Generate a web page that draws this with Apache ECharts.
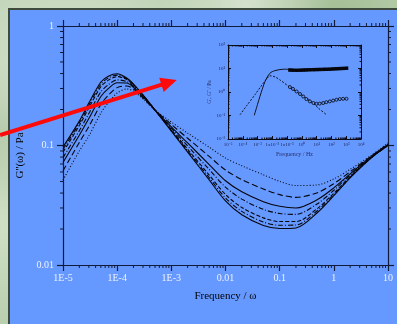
<!DOCTYPE html>
<html>
<head>
<meta charset="utf-8">
<script src="https://cdn.jsdelivr.net/npm/echarts@6/dist/echarts.min.js"></script>
<style>
  html, body { margin: 0; padding: 0; width: 397px; height: 324px; overflow: hidden; }
  body {
    background-color: #b9cfae;
    background-image:
      radial-gradient(ellipse at 18% 20%, rgba(255,255,255,0.45), transparent 35%),
      radial-gradient(ellipse at 62% 2%, rgba(255,255,255,0.40), transparent 25%),
      radial-gradient(ellipse at 85% 4%, rgba(140,170,120,0.45), transparent 20%),
      radial-gradient(ellipse at 2% 70%, rgba(230,240,220,0.5), transparent 30%),
      radial-gradient(ellipse at 3% 40%, rgba(150,175,135,0.4), transparent 25%);
  }
  #panel {
    position: absolute; left: 8px; top: 8px; right: 0; bottom: 0;
    background: #6699ff;
    border-left: 2px solid #3e4b3c; border-top: 2px solid #3e4b3c;
  }
  #chart { position: absolute; left: 0; top: 0; width: 397px; height: 324px; }
</style>
</head>
<body>
<div id="panel"></div>
<div id="chart"></div>
<script>
// ---- main plot: loss modulus vs frequency, seven samples ----
const freq = [1e-5, 2e-5, 3e-5, 5e-5, 7e-5, 1e-4, 1.5e-4, 2e-4, 3e-4, 5e-4, 1e-3, 2e-3,
              5e-3, 1e-2, 2e-2, 5e-2, 0.1, 0.2, 0.5, 1, 2, 5, 10];

const g1 = [0.097, 0.160, 0.227, 0.340, 0.382, 0.398, 0.367, 0.327, 0.265, 0.198, 0.132, 0.0881,
            0.0515, 0.0344, 0.0263, 0.0214, 0.0202, 0.0204, 0.0275, 0.038, 0.0537, 0.0794, 0.100];
const g2 = [0.0929, 0.154, 0.217, 0.326, 0.369, 0.388, 0.362, 0.324, 0.264, 0.198, 0.134, 0.0904,
            0.0538, 0.0364, 0.0281, 0.0229, 0.0215, 0.0216, 0.0286, 0.0389, 0.0543, 0.0796, 0.100];
const g3 = [0.0882, 0.147, 0.206, 0.310, 0.354, 0.377, 0.356, 0.321, 0.262, 0.198, 0.136, 0.0931,
            0.0566, 0.0389, 0.0303, 0.0248, 0.0231, 0.0231, 0.0298, 0.0399, 0.055, 0.080, 0.1007];
const g4 = [0.0792, 0.133, 0.185, 0.281, 0.325, 0.354, 0.343, 0.313, 0.258, 0.198, 0.140, 0.0991,
            0.0631, 0.0448, 0.0356, 0.0292, 0.0270, 0.0265, 0.0326, 0.0422, 0.0565, 0.0805, 0.1015];
const g5 = [0.0720, 0.122, 0.168, 0.257, 0.302, 0.335, 0.333, 0.307, 0.255, 0.198, 0.143, 0.105,
            0.0693, 0.0507, 0.0410, 0.0339, 0.0310, 0.0300, 0.0353, 0.0442, 0.0579, 0.0812, 0.102];
const g6 = [0.0614, 0.106, 0.144, 0.221, 0.266, 0.305, 0.315, 0.297, 0.250, 0.198, 0.150, 0.115,
            0.0811, 0.0623, 0.0519, 0.0433, 0.0388, 0.0368, 0.0403, 0.0480, 0.0603, 0.082, 0.103];
const g7 = [0.0514, 0.0899, 0.120, 0.187, 0.231, 0.275, 0.297, 0.286, 0.245, 0.198, 0.157, 0.127,
            0.0968, 0.0785, 0.0676, 0.0569, 0.0501, 0.0462, 0.0468, 0.0525, 0.0631, 0.0832, 0.105];

const xTickLabels = ['1E-5', '1E-4', '1E-3', '0.01', '0.1', '1', '10'];
const yTickLabels = ['0.01', '0.1', '1'];

// ---- inset: G' and G'' of one sample ----
const insetGpFitFreq = [6.0e-4, 1e-3, 1.45e-3, 3.2e-3, 6.9e-3, 1.5e-2, 5.5e-2, 0.155];
const insetGpFit     = [0.102, 0.30, 0.65, 2.8, 6.3, 8.1, 9.3, 9.3];
const insetGppFitFreq = [6.5e-5, 2e-4, 6.6e-4, 2e-3, 4e-3, 6.9e-3, 1.5e-2, 3.2e-2, 0.155, 0.72, 3.5, 12.6, 47];
const insetGppFit     = [0.107, 0.28, 0.76, 2.0, 3.5, 4.9, 4.4, 3.3, 1.6, 0.83, 0.44, 0.21, 0.107];
const insetMeasFreq = [0.155, 0.25, 0.437, 0.75, 1.23, 2.0, 3.47, 6, 9.8, 16, 27.5, 45, 77.6, 130, 219, 370, 617, 1047];
const insetGpMeas   = [8.6, 8.5, 8.4, 8.5, 8.6, 8.7, 8.8, 8.9, 9.0, 9.1, 9.2, 9.3, 9.4, 9.6, 9.7, 9.9, 10.1, 10.3];
const insetGppMeas  = [1.62, 1.35, 1.05, 0.82, 0.646, 0.50, 0.398, 0.34, 0.316, 0.32, 0.339, 0.37, 0.398, 0.43, 0.468, 0.50, 0.513, 0.513];
const insetXTickLabels = ['10⁻⁵', '10⁻⁴', '10⁻³', '1x10⁻²', '1x10⁻¹', '10⁰', '10¹', '10²', '10³', '10⁴'];
const insetYTickLabels = ['10⁻²', '10⁻¹', '10⁰', '10¹', '10²'];

// red pointer from the left margin towards the inset, in main-plot data units
const arrowFrom = [6.9e-7, 0.1225];
const arrowTo   = [1.26e-3, 0.353];

const SERIF = 'Liberation Serif, Times New Roman, serif';
const AXIS = '#111a38';
const LABEL = '#eef1ff';

function logMinor(e0, e1) {
  const out = [];
  for (let e = e0; e < e1; e++) for (let k = 2; k <= 9; k++) out.push(k * Math.pow(10, e));
  return out;
}

// minor log ticks drawn as a custom series so they sit at 2..9 of each decade
function tickSeries(xi, yi, pts, dir, len, color) {
  return {
    type: 'custom', xAxisIndex: xi, yAxisIndex: yi, silent: true, clip: false, z: 5,
    data: pts,
    renderItem: function (params, api) {
      const p = api.coord([api.value(0), api.value(1)]);
      return {
        type: 'line',
        shape: { x1: p[0], y1: p[1], x2: p[0] + dir[0] * len, y2: p[1] + dir[1] * len },
        style: { stroke: color, lineWidth: 1 }
      };
    }
  };
}

const curves = [g1, g2, g3, g4, g5, g6, g7];
const dashes = ['solid', [5, 2, 1, 2], [4, 2], [5, 2, 1, 2], 'solid', [6, 3], [1, 2]];

const mainXMinor = logMinor(-5, 1);
const mainYMinor = logMinor(-2, 0);
const insetXMinor = logMinor(-5, 4);
const insetYMinor = logMinor(-2, 2);

function mainAxisCommon() {
  return {
    type: 'log', logBase: 10, splitNumber: 10,
    axisLine: { show: true, lineStyle: { color: AXIS, width: 1.2 } },
    axisTick: { show: true, length: 6, lineStyle: { color: AXIS, width: 1.2 } },
    splitLine: { show: false },
    minorTick: { show: false }
  };
}
function insetAxisCommon() {
  return {
    type: 'log', logBase: 10, splitNumber: 10,
    axisLine: { show: true, lineStyle: { color: '#0a0a18', width: 1 } },
    axisTick: { show: true, inside: true, length: 3, lineStyle: { color: '#0a0a18', width: 1 } },
    splitLine: { show: false }
  };
}

const series = curves.map(function (g, i) {
  return {
    type: 'line', xAxisIndex: 0, yAxisIndex: 0, silent: true,
    data: freq.map(function (f, j) { return [f, g[j]]; }),
    showSymbol: false, smooth: 0.3,
    lineStyle: { color: '#05050c', width: 1.1, type: dashes[i] },
    z: 3
  };
});

// inset series
series.push({
  type: 'line', xAxisIndex: 2, yAxisIndex: 2, silent: true, showSymbol: false, smooth: 0.3,
  data: insetGppFitFreq.map(function (f, j) { return [f, insetGppFit[j]]; }),
  lineStyle: { color: '#05050c', width: 0.9, type: [2, 1.5] }
});
series.push({
  type: 'line', xAxisIndex: 2, yAxisIndex: 2, silent: true, showSymbol: false, smooth: 0.3,
  data: insetGpFitFreq.map(function (f, j) { return [f, insetGpFit[j]]; }),
  lineStyle: { color: '#05050c', width: 0.9 }
});
series.push({
  type: 'line', xAxisIndex: 2, yAxisIndex: 2, silent: true, smooth: false,
  data: insetMeasFreq.map(function (f, j) { return [f, insetGpMeas[j]]; }),
  symbol: 'rect', symbolSize: 3.5, showAllSymbol: true,
  itemStyle: { color: '#05050c' },
  lineStyle: { color: '#05050c', width: 2.5 }
});
series.push({
  type: 'line', xAxisIndex: 2, yAxisIndex: 2, silent: true, smooth: false,
  data: insetMeasFreq.map(function (f, j) { return [f, insetGppMeas[j]]; }),
  symbol: 'circle', symbolSize: 3, showAllSymbol: true,
  itemStyle: { color: '#6699ff', borderColor: '#05050c', borderWidth: 0.8 },
  lineStyle: { color: '#05050c', width: 0.8 }
});

// minor ticks, main plot (outward)
series.push(tickSeries(0, 0, mainXMinor.map(function (v) { return [v, 0.01]; }), [0, 1], 3, AXIS));
series.push(tickSeries(0, 0, mainXMinor.map(function (v) { return [v, 1]; }), [0, -1], 3, AXIS));
series.push(tickSeries(0, 0, mainYMinor.map(function (v) { return [1e-5, v]; }), [-1, 0], 3, AXIS));
series.push(tickSeries(0, 0, mainYMinor.map(function (v) { return [10, v]; }), [1, 0], 3, AXIS));
// minor ticks, inset (inward)
series.push(tickSeries(2, 2, insetXMinor.map(function (v) { return [v, 0.01]; }), [0, -1], 1.5, '#0a0a18'));
series.push(tickSeries(2, 2, insetXMinor.map(function (v) { return [v, 100]; }), [0, 1], 1.5, '#0a0a18'));
series.push(tickSeries(2, 2, insetYMinor.map(function (v) { return [1e-5, v]; }), [1, 0], 1.5, '#0a0a18'));
series.push(tickSeries(2, 2, insetYMinor.map(function (v) { return [1e4, v]; }), [-1, 0], 1.5, '#0a0a18'));

const option = {
  animation: false,
  backgroundColor: 'transparent',
  grid: [
    { left: 63, top: 26, right: 9, bottom: 59, containLabel: false },
    { left: 228, top: 45, width: 133, height: 94, containLabel: false }
  ],
  xAxis: [
    Object.assign(mainAxisCommon(), {
      gridIndex: 0, position: 'bottom', min: 1e-5, max: 10,
      axisLabel: {
        show: true, margin: 8, color: LABEL, fontFamily: SERIF, fontSize: 10,
        formatter: function (v) { return xTickLabels[Math.round(Math.log10(v)) + 5]; }
      },
      name: 'Frequency / ω', nameLocation: 'middle', nameGap: 26,
      nameTextStyle: { fontFamily: SERIF, fontSize: 11, color: '#000' }
    }),
    Object.assign(mainAxisCommon(), {
      gridIndex: 0, position: 'top', min: 1e-5, max: 10, axisLabel: { show: false }
    }),
    Object.assign(insetAxisCommon(), {
      gridIndex: 1, position: 'bottom', min: 1e-5, max: 1e4,
      axisLabel: {
        show: true, margin: 3, color: '#1b2050', fontFamily: SERIF, fontSize: 5,
        formatter: function (v) { return insetXTickLabels[Math.round(Math.log10(v)) + 5]; }
      },
      name: 'Frequency / Hz', nameLocation: 'middle', nameGap: 12,
      nameTextStyle: { fontFamily: SERIF, fontSize: 6, color: '#27306a' }
    }),
    Object.assign(insetAxisCommon(), {
      gridIndex: 1, position: 'top', min: 1e-5, max: 1e4, axisLabel: { show: false }
    })
  ],
  yAxis: [
    Object.assign(mainAxisCommon(), {
      gridIndex: 0, position: 'left', min: 0.01, max: 1,
      axisLabel: {
        show: true, margin: 9, color: LABEL, fontFamily: SERIF, fontSize: 10,
        formatter: function (v) { return yTickLabels[Math.round(Math.log10(v)) + 2]; }
      },
      name: "G''(ω) / Pa", nameLocation: 'middle', nameGap: 29, nameRotate: 90,
      nameTextStyle: { fontFamily: SERIF, fontSize: 11, color: '#000', padding: [0, 20, 0, 0] }
    }),
    Object.assign(mainAxisCommon(), {
      gridIndex: 0, position: 'right', min: 0.01, max: 1, axisLabel: { show: false }
    }),
    Object.assign(insetAxisCommon(), {
      gridIndex: 1, position: 'left', min: 0.01, max: 100,
      axisLabel: {
        show: true, margin: 3, color: '#1b2050', fontFamily: SERIF, fontSize: 5,
        formatter: function (v) { return insetYTickLabels[Math.round(Math.log10(v)) + 2]; }
      },
      name: "G', G'' / Pa", nameLocation: 'middle', nameGap: 14, nameRotate: 90,
      nameTextStyle: { fontFamily: SERIF, fontSize: 5.5, color: '#27306a' }
    }),
    Object.assign(insetAxisCommon(), {
      gridIndex: 1, position: 'right', min: 0.01, max: 100, axisLabel: { show: false }
    })
  ],
  series: series
};

const chart = echarts.init(document.getElementById('chart'), null, { renderer: 'canvas' });
chart.setOption(option);

// red arrow, placed through the main plot's scales
const p0 = chart.convertToPixel({ xAxisIndex: 0, yAxisIndex: 0 }, arrowFrom);
const p1 = chart.convertToPixel({ xAxisIndex: 0, yAxisIndex: 0 }, arrowTo);
const dx = p1[0] - p0[0], dy = p1[1] - p0[1];
const L = Math.sqrt(dx * dx + dy * dy);
const ux = dx / L, uy = dy / L;
const headLen = 16, headHalf = 7.5;
const bx = p1[0] - ux * headLen, by = p1[1] - uy * headLen;
chart.setOption({
  graphic: [
    {
      type: 'line', z: 100, silent: true,
      shape: { x1: p0[0], y1: p0[1], x2: bx + ux * 2, y2: by + uy * 2 },
      style: { stroke: '#ff0a0a', lineWidth: 4 }
    },
    {
      type: 'polygon', z: 100, silent: true,
      shape: { points: [
        [p1[0], p1[1]],
        [bx - uy * headHalf, by + ux * headHalf],
        [bx + uy * headHalf, by - ux * headHalf]
      ] },
      style: { fill: '#ff0a0a' }
    }
  ]
});
</script>
</body>
</html>
